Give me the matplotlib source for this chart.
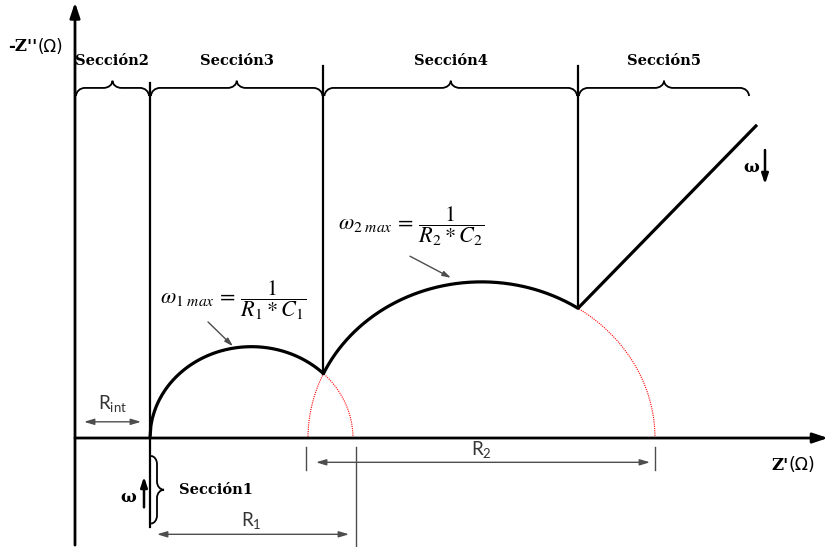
import numpy as np
import matplotlib
matplotlib.use("Agg")
import matplotlib.pyplot as plt
from matplotlib.path import Path
from matplotlib.patches import PathPatch

# Equivalent-circuit parameters (ohms)
R_int = 75.0          # intercept on the real axis
R1 = 203.0            # diameter of the first arc
R2_start = 233.0      # left foot of the second arc
R2 = 347.0            # diameter of the second arc
warburg_start = 503.0 # Z' where the diffusion tail begins
warburg_end = (682.0, 348.0)  # end point of the 45-degree tail

section_names = ["Sección1", "Sección2", "Sección3", "Sección4", "Sección5"]
section5_end = 675.0

fig = plt.figure(figsize=(8.31, 5.47), dpi=100)
ax = fig.add_axes([0, 0, 1, 1])
ax.set_xlim(-75, 756)
ax.set_ylim(-121.1, 486.7)
ax.axis("off")

c1 = R_int + R1 / 2
c2 = R2_start + R2 / 2
r1 = R1 / 2
r2 = R2 / 2

# Intersection of the two semicircles
xi = (c2**2 - r2**2 - c1**2 + r1**2) / (2 * (c2 - c1))
yi = np.sqrt(r1**2 - (xi - c1) ** 2)

# Red dotted reference semicircles
t = np.linspace(0, np.pi, 400)
ax.plot(c1 + r1 * np.cos(t), r1 * np.sin(t), color="red", lw=0.8, ls=(0, (1, 1)), zorder=2)
ax.plot(c2 + r2 * np.cos(t), r2 * np.sin(t), color="red", lw=0.8, ls=(0, (1, 1)), zorder=2)

# Measured impedance curve
x_a = np.linspace(R_int, xi, 200)
y_a = np.sqrt(np.clip(r1**2 - (x_a - c1) ** 2, 0, None))
x_b = np.linspace(xi, warburg_start, 300)
y_b = np.sqrt(np.clip(r2**2 - (x_b - c2) ** 2, 0, None))
yw = np.sqrt(r2**2 - (warburg_start - c2) ** 2)
xs = np.concatenate([x_a, x_b, [warburg_end[0]]])
ys = np.concatenate([y_a, y_b, [warburg_end[1]]])
ax.plot(xs, ys, color="black", lw=2.3, solid_capstyle="butt", zorder=3)

# Axes with arrowheads
ax.annotate("", xy=(0, 484), xytext=(0, -119),
            arrowprops=dict(arrowstyle="-|>,head_width=0.3,head_length=0.9",
                            lw=2.0, color="black", shrinkA=0, shrinkB=0))
ax.annotate("", xy=(753, 0), xytext=(0, 0),
            arrowprops=dict(arrowstyle="-|>,head_width=0.3,head_length=0.9",
                            lw=2.0, color="black", shrinkA=0, shrinkB=0))

ax.text(-67, 435, "-Z''", fontfamily="DejaVu Serif", fontweight="bold", fontsize=12,
        va="center", ha="left")
ax.text(-37, 435, "(Ω)", fontfamily="DejaVu Sans", fontsize=12, va="center", ha="left")
ax.text(696, -30, "Z'", fontfamily="DejaVu Serif", fontweight="bold", fontsize=12,
        va="center", ha="left")
ax.text(713, -30, "(Ω)", fontfamily="DejaVu Sans", fontsize=12.5, va="center", ha="left")

# Section boundaries
edges = [0.0, R_int, xi, warburg_start, section5_end]
ax.plot([R_int, R_int], [394, -99], color="black", lw=1.6, zorder=3)
ax.plot([xi, xi], [413, yi], color="black", lw=1.6, zorder=3)
ax.plot([warburg_start, warburg_start], [413, yw], color="black", lw=1.6, zorder=3)


def brace(ax, a, b, base, h, d, r, vertical=False, lw=1.3):
    """Curly brace from a to b along one direction, tip pointing by +h."""
    m = (a + b) / 2
    k = 0.55
    pts = [(a, base - d),
           (a, base - d + k * d), (a + r - k * r, base), (a + r, base),
           (m - r, base),
           (m - r + k * r, base), (m, base + h - k * h), (m, base + h),
           (m, base + h - k * h), (m + r - k * r, base), (m + r, base),
           (b - r, base),
           (b - r + k * r, base), (b, base - d + k * d), (b, base - d)]
    codes = [Path.MOVETO,
             Path.CURVE4, Path.CURVE4, Path.CURVE4,
             Path.LINETO,
             Path.CURVE4, Path.CURVE4, Path.CURVE4,
             Path.CURVE4, Path.CURVE4, Path.CURVE4,
             Path.LINETO,
             Path.CURVE4, Path.CURVE4, Path.CURVE4]
    if vertical:
        pts = [(w, u) for (u, w) in pts]
    ax.add_patch(PathPatch(Path(pts, codes), fill=False, lw=lw, color="black", zorder=3))


label_font = dict(fontfamily="DejaVu Serif", fontweight="bold", fontsize=10.5,
                  ha="center", va="center")
for i in range(4):
    a, b = edges[i], edges[i + 1]
    brace(ax, a + 1, b - 1, 389, 8, 9, 9)
    ax.text((a + b) / 2, 419, section_names[i + 1], **label_font)

# Sección1: vertical brace below the real axis
brace(ax, -95, -20, 82, 7, 6, 9, vertical=True)
ax.text(104, -58, section_names[0], fontfamily="DejaVu Serif", fontweight="bold",
        fontsize=10.5, ha="left", va="center")
ax.text(53, -66, "ω", fontfamily="DejaVu Serif", fontweight="bold", fontsize=12,
        ha="center", va="center")
ax.annotate("", xy=(69, -43), xytext=(69, -77),
            arrowprops=dict(arrowstyle="-|>,head_width=0.2,head_length=0.6",
                            lw=1.8, color="black", shrinkA=0, shrinkB=0))

# Warburg frequency direction
ax.text(676, 301, "ω", fontfamily="DejaVu Serif", fontweight="bold", fontsize=12,
        ha="center", va="center")
ax.annotate("", xy=(690, 282), xytext=(690, 320),
            arrowprops=dict(arrowstyle="-|>,head_width=0.2,head_length=0.6",
                            lw=1.8, color="black", shrinkA=0, shrinkB=0))

# Resistance dimension arrows
gray = "#4d4d4d"
arrow_kw = dict(arrowstyle="<|-|>,head_width=0.18,head_length=0.6", lw=1.0,
                color=gray, shrinkA=0, shrinkB=0)
ax.annotate("", xy=(9, 18), xytext=(R_int - 9, 18), arrowprops=arrow_kw)
ax.text(R_int / 2, 38, r"$\mathregular{R_{int}}$", fontfamily="Lato", fontsize=13.5,
        color="#333333", ha="center", va="center")

ax.plot([R_int + R1 + 3, R_int + R1 + 3], [-10, -121], color=gray, lw=1.0)
ax.annotate("", xy=(R_int + 7, -107), xytext=(R_int + R1 - 4, -107), arrowprops=arrow_kw)
ax.text(R_int + R1 / 2, -92, r"$\mathregular{R_1}$", fontfamily="Lato", fontsize=13.5,
        color="#333333", ha="center", va="center")

ax.plot([R2_start - 2, R2_start - 2], [-10, -36], color=gray, lw=1.0)
ax.plot([R2_start + R2, R2_start + R2], [-10, -36], color=gray, lw=1.0)
ax.annotate("", xy=(R2_start + 8, -27), xytext=(R2_start + R2 - 5, -27), arrowprops=arrow_kw)
ax.text(R2_start + R2 / 2, -13, r"$\mathregular{R_2}$", fontfamily="Lato", fontsize=13.5,
        color="#333333", ha="center", va="center")

# Characteristic frequencies at each arc apex
ax.text(85, 153, r"$\omega_{1\ max}\,=\,\dfrac{1}{R_1 * C_1}$", fontsize=16,
        math_fontfamily="stix", ha="left", va="center")
ax.annotate("", xy=(158, 102), xytext=(133, 129),
            arrowprops=dict(arrowstyle="-|>,head_width=0.15,head_length=0.5",
                            lw=1.0, color=gray, shrinkA=0, shrinkB=0))
ax.text(263, 236, r"$\omega_{2\ max}\,=\,\dfrac{1}{R_2 * C_2}$", fontsize=16,
        math_fontfamily="stix", ha="left", va="center")
ax.annotate("", xy=(376, 178), xytext=(335, 202),
            arrowprops=dict(arrowstyle="-|>,head_width=0.15,head_length=0.5",
                            lw=1.0, color=gray, shrinkA=0, shrinkB=0))

fig.savefig("out.png", dpi=100)
